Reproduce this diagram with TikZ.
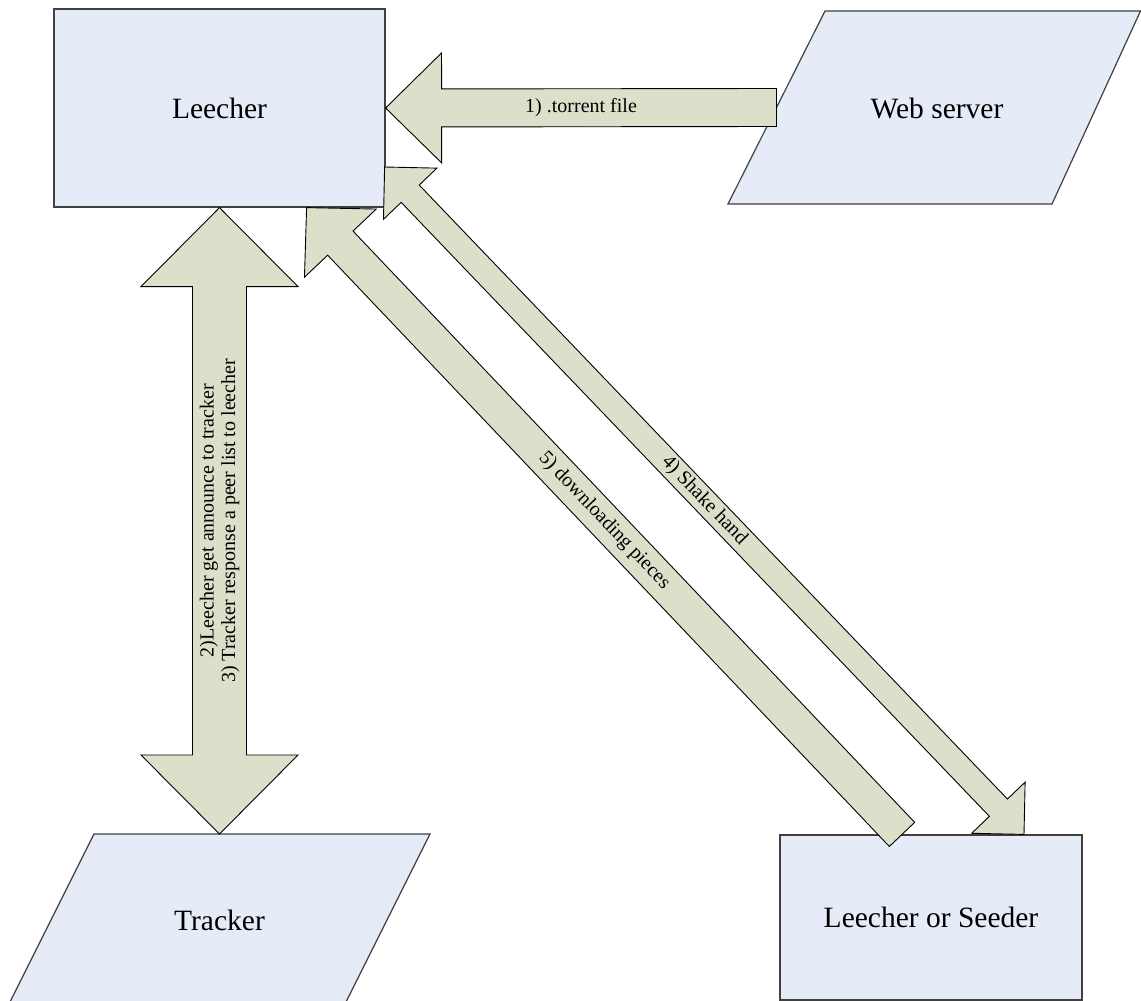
\documentclass[tikz,border=0pt]{standalone}
\usepackage{fontspec}
\setmainfont{Liberation Serif}
\usetikzlibrary{calc}
\definecolor{boxfill}{RGB}{229,236,247}
\definecolor{arrfill}{RGB}{220,224,203}
\definecolor{boxline}{RGB}{64,64,64}
% single block arrow: [opts]{tail}{tip}{shaft half width}{head half width}{head length}
\newcommand\blkarrow[6][]{%
  \coordinate (bT) at (#2);
  \coordinate (bP) at (#3);
  \coordinate (bH) at ($(bP)!#6!(bT)$);
  \draw[blk,#1] ($(bT)!#4!90:(bP)$) -- ($(bH)!#4!90:(bP)$) -- ($(bH)!#5!90:(bP)$) -- (bP)
    -- ($(bH)!#5!-90:(bP)$) -- ($(bH)!#4!-90:(bP)$) -- ($(bT)!#4!-90:(bP)$) -- cycle;
}
% double block arrow: [opts]{end A}{end B}{shaft half width}{head half width}{head length}
\newcommand\dblarrow[6][]{%
  \coordinate (bA) at (#2);
  \coordinate (bB) at (#3);
  \coordinate (bHA) at ($(bA)!#6!(bB)$);
  \coordinate (bHB) at ($(bB)!#6!(bA)$);
  \draw[blk,#1] (bA) -- ($(bHA)!#5!90:(bB)$) -- ($(bHA)!#4!90:(bB)$) -- ($(bHB)!#4!90:(bB)$)
    -- ($(bHB)!#5!90:(bB)$) -- (bB) -- ($(bHB)!#5!-90:(bB)$) -- ($(bHB)!#4!-90:(bB)$)
    -- ($(bHA)!#4!-90:(bB)$) -- ($(bHA)!#5!-90:(bB)$) -- cycle;
}
\begin{document}
\begin{tikzpicture}[x=1pt,y=-1pt,
  box/.style={draw=boxline, line width=1.2pt, fill=boxfill},
  rectbox/.style={box, inner sep=0pt},
  lbl/.style={font=\fontsize{29.5}{32}\selectfont, inner sep=0pt},
  alabel/.style={font=\fontsize{20}{21.5}\selectfont, inner sep=0pt},
  blk/.style={draw=black, line width=0.9pt, fill=arrfill, line join=miter}]
\useasboundingbox (0,0) rectangle (1141,1001);
\clip (0,0) rectangle (1141,1001);

% Leecher
\node[rectbox, lbl, minimum width=331pt, minimum height=198pt] (leecher) at (219.5,108) {Leecher};

% Web server (parallelogram)
\draw[box] (825,11) coordinate (web-nw) -- (1140.5,11) -- (1052,204) -- (728,204) coordinate (web-sw) -- cycle;
\node[lbl] (web) at (937,108) {Web server};
\coordinate (web-w) at ($(web-nw)!0.5!(web-sw)$);

% Tracker (parallelogram)
\draw[box] (94,834) -- (430,834) -- (342,1010) -- (6,1010) -- cycle;
\node[lbl] (tracker) at (219.5,920) {Tracker};
\coordinate (tracker-n) at (219.5,834);

% Leecher or Seeder
\node[rectbox, lbl, minimum width=302pt, minimum height=165pt] (peer) at (931,917.5) {Leecher or Seeder};

% 1) torrent file
\blkarrow{web-w}{leecher.east}{19pt}{55pt}{56pt}
\node[alabel] (l1) at ($(web-w)!0.5!(leecher.east)$) {1) .torrent file};

% 2) / 3) tracker
\dblarrow{leecher.south}{tracker-n}{27pt}{78.5pt}{79pt}
\node[alabel, rotate=90, align=center] (l23) at ($(leecher.south)!0.5!(tracker-n)$)
  {2)Leecher get announce to tracker\\3) Tracker response a peer list to leecher};

% 5) downloading pieces
\coordinate (d-tail) at ($(peer.north)+(-29,0)$);
\coordinate (d-tip) at ($(leecher.south east)+(-79,0)$);
\blkarrow{d-tail}{d-tip}{17.5pt}{49.5pt}{49pt}
\path (d-tip) -- (d-tail) node[midway, sloped, alabel] (l5) {5) downloading pieces};

% 4) Shake hand
\coordinate (s-a) at ($(leecher.east)+(-1,59)$);
\coordinate (s-b) at ($(peer.north)+(93,0)$);
\dblarrow{s-a}{s-b}{12.5pt}{37pt}{37pt}
\path (s-a) -- (s-b) node[midway, sloped, alabel] (l4) {4) Shake hand};
\end{tikzpicture}
\end{document}
